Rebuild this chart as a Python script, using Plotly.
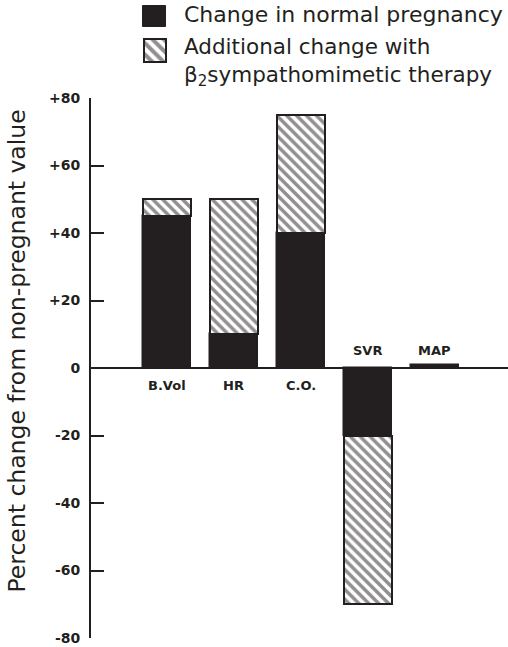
import plotly.graph_objects as go

# data (percent change from non-pregnant value)
categories = ["B.Vol", "HR", "C.O.", "SVR", "MAP"]
normal_change = [45, 10, 40, -20, 1]
additional_change = [5, 40, 35, -50, None]
tick_vals = [80, 60, 40, 20, 0, -20, -40, -60, -80]
tick_text = ["+80", "+60", "+40", "+20", "0", "-20", "-40", "-60", "-80"]

FONT = "DejaVu Sans"
INK = "#231f20"
W, H = 508, 647
PLOT_H = 638  # plot area height (bottom margin 9)

fig = go.Figure()

# solid part: change in normal pregnancy
fig.add_trace(go.Bar(
    x=categories,
    y=normal_change,
    base=0,
    width=0.72,
    marker=dict(color=INK, line=dict(color=INK, width=1.5)),
    showlegend=False,
))

# hatched part: additional change with beta2 therapy, stacked on the solid part
add_x = [c for c, a in zip(categories, additional_change) if a is not None]
add_y = [a for a in additional_change if a is not None]
add_base = [n for n, a in zip(normal_change, additional_change) if a is not None]
fig.add_trace(go.Bar(
    x=add_x,
    y=add_y,
    base=add_base,
    width=0.72,
    marker=dict(
        color="white",
        line=dict(color=INK, width=2),
        pattern=dict(shape="\\", fgcolor=INK, bgcolor="white", size=7, solidity=0.5),
    ),
    showlegend=False,
))

# legend swatches drawn on an overlay axis in the header area (pixel units)
fig.add_trace(go.Bar(
    x=[154.5], y=[21], base=[6], width=[23],
    marker=dict(color=INK, line=dict(color=INK, width=1)),
    xaxis="x2", yaxis="y2", showlegend=False, hoverinfo="skip",
))
fig.add_trace(go.Bar(
    x=[154.5], y=[23], base=[39], width=[22],
    marker=dict(
        color="white",
        line=dict(color=INK, width=2),
        pattern=dict(shape="\\", fgcolor=INK, bgcolor="white", size=8, solidity=0.5),
    ),
    xaxis="x2", yaxis="y2", showlegend=False, hoverinfo="skip",
))

annotations = []
# category labels next to the zero line
for cat, val in zip(categories, normal_change):
    above = val < 0 or cat == "MAP"
    annotations.append(dict(
        x=cat, y=0, xref="x", yref="y",
        text=f"<b>{cat}</b>", showarrow=False,
        yanchor="bottom" if above else "top",
        yshift=8 if above else -8,
        font=dict(family=FONT, size=13, color=INK),
    ))

# legend text
annotations.append(dict(
    x=182 / W, y=1 - 15 / PLOT_H, xref="paper", yref="paper",
    text="Change in normal pregnancy", showarrow=False,
    xanchor="left", yanchor="middle",
    font=dict(family=FONT, size=22, color=INK),
))
annotations.append(dict(
    x=182 / W, y=1 - 62 / PLOT_H, xref="paper", yref="paper",
    text="Additional change with<br>β<sub>2</sub>sympathomimetic therapy",
    showarrow=False, xanchor="left", yanchor="middle", align="left",
    font=dict(family=FONT, size=21.5, color=INK),
))

# y axis title
annotations.append(dict(
    x=16 / W, y=1 - 351.5 / PLOT_H, xref="paper", yref="paper",
    text="Percent change from non-pregnant value", textangle=-90,
    showarrow=False, xanchor="center", yanchor="middle",
    font=dict(family=FONT, size=23.5, color=INK),
))

fig.update_layout(
    width=W,
    height=H,
    margin=dict(l=0, r=0, t=0, b=9, autoexpand=False),
    plot_bgcolor="white",
    paper_bgcolor="white",
    barmode="overlay",
    bargap=0,
    annotations=annotations,
    xaxis=dict(
        domain=[91 / W, 1],
        type="category",
        categoryorder="array",
        categoryarray=categories,
        range=[-1.136, 5.097],
        showline=False, showgrid=False, zeroline=False,
        showticklabels=False, ticks="", automargin=False,
    ),
    yaxis=dict(
        domain=[0, (PLOT_H - 98) / PLOT_H],
        range=[-80, 80],
        tickvals=tick_vals,
        ticktext=[f"<b>{t}</b>" for t in tick_text],
        tickfont=dict(family=FONT, size=14, color=INK),
        ticks="inside",
        ticklen=13,
        tickwidth=2,
        tickcolor=INK,
        ticklabelstandoff=6,
        showline=True,
        linecolor=INK,
        linewidth=2,
        showgrid=False,
        zeroline=True,
        zerolinecolor=INK,
        zerolinewidth=1.5,
        automargin=False,
    ),
    xaxis2=dict(domain=[0, 1], range=[0, W], visible=False, anchor="y2", automargin=False),
    yaxis2=dict(domain=[1 - 97 / PLOT_H, 1], range=[97, 0], visible=False, anchor="x2", automargin=False),
)

# page body has a default 8px margin; remove it so the figure fills the window
fig.write_html(
    "out.html",
    config={"displayModeBar": False},
    post_script="document.body.style.margin='0';",
)
